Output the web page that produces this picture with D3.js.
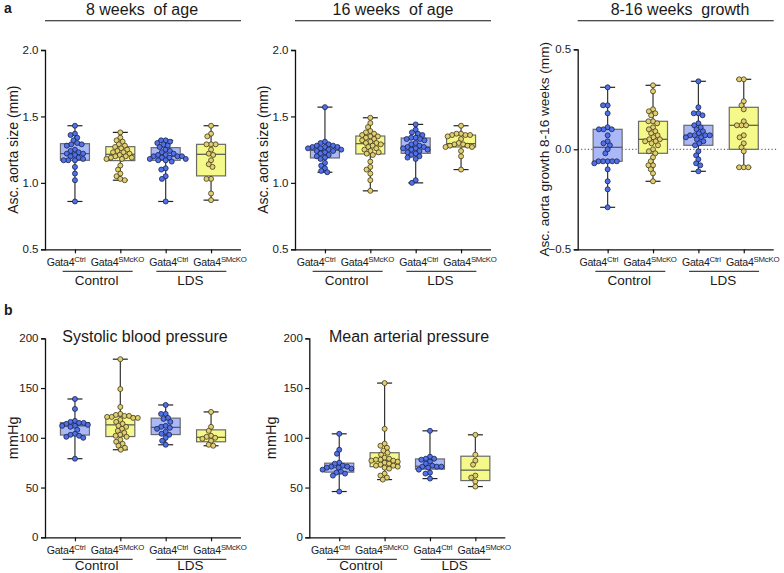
<!DOCTYPE html>
<html><head><meta charset="utf-8">
<script src="https://cdn.jsdelivr.net/npm/d3@7"></script>
<style>
body{margin:0;background:#fff}
svg{display:block}
text{font-family:"Liberation Sans",Arial,Helvetica,sans-serif;fill:#1a1a1a}
</style>
</head><body>
<svg id="chart" width="784" height="573"></svg>
<script>
// ---------- data ----------
const genotypeBase = "Gata4";
const genotypeSup = ["Ctrl", "SMcKO", "Ctrl", "SMcKO"];
const cohorts = ["Control", "LDS"];
const panelTitles = ["8 weeks\u00a0 of age", "16 weeks\u00a0 of age", "8-16 weeks\u00a0 growth", "Systolic blood pressure", "Mean arterial pressure"];
const yLabels = ["Asc. aorta size (mm)", "Asc. aorta size (mm)", "Asc. aorta growth 8-16 weeks (mm)", "mmHg", "mmHg"];
const ticksSize = [0.5, 1.0, 1.5, 2.0];
const ticksGrowth = [-0.5, 0.0, 0.5];
const ticksPressure = [0, 50, 100, 150, 200];

const aorta8wk = [
  [1.43,1.37,1.36,1.34,1.32,1.30,1.29,1.29,1.28,1.25,1.24,1.23,1.22,1.22,1.21,1.20,1.19,1.18,1.17,1.17,1.17,1.12,1.07,1.02,0.86],
  [1.38,1.34,1.32,1.31,1.29,1.28,1.27,1.26,1.25,1.24,1.23,1.23,1.22,1.21,1.20,1.20,1.19,1.19,1.18,1.18,1.13,1.10,1.07,1.05,1.03,1.02],
  [1.32,1.32,1.31,1.30,1.29,1.28,1.27,1.25,1.24,1.23,1.22,1.21,1.21,1.20,1.20,1.20,1.19,1.19,1.18,1.18,1.17,1.17,1.16,1.11,1.10,1.05,1.03,0.86],
  [1.43,1.37,1.35,1.29,1.29,1.29,1.25,1.22,1.21,1.17,1.14,1.12,1.03,1.03,0.92,0.87]
];
const aorta16wk = [
  [1.57,1.31,1.30,1.29,1.28,1.28,1.27,1.27,1.27,1.26,1.26,1.25,1.25,1.24,1.24,1.23,1.22,1.21,1.20,1.19,1.18,1.15,1.13,1.11,1.09,1.08],
  [1.49,1.45,1.42,1.39,1.38,1.37,1.36,1.35,1.35,1.34,1.33,1.32,1.31,1.30,1.30,1.29,1.28,1.27,1.26,1.25,1.24,1.23,1.22,1.21,1.16,1.12,1.10,1.07,1.02,0.94],
  [1.44,1.40,1.38,1.37,1.36,1.34,1.34,1.33,1.33,1.32,1.30,1.29,1.28,1.27,1.27,1.26,1.26,1.25,1.25,1.24,1.23,1.22,1.21,1.20,1.19,1.18,1.02,1.00],
  [1.43,1.37,1.37,1.36,1.36,1.36,1.35,1.33,1.30,1.29,1.29,1.28,1.28,1.27,1.27,1.24,1.20,1.10]
];
const aortaGrowth = [
  [0.31,0.22,0.22,0.18,0.11,0.10,0.10,0.10,0.07,0.04,0.03,0.02,0.00,-0.02,-0.06,-0.06,-0.06,-0.06,-0.06,-0.07,-0.10,-0.16,-0.20,-0.29],
  [0.32,0.29,0.20,0.19,0.18,0.17,0.14,0.14,0.13,0.11,0.10,0.09,0.08,0.07,0.06,0.05,0.05,0.04,0.04,0.03,0.02,0.00,-0.01,-0.02,-0.04,-0.06,-0.08,-0.08,-0.10,-0.12,-0.16],
  [0.34,0.21,0.18,0.18,0.17,0.13,0.12,0.11,0.10,0.09,0.08,0.07,0.07,0.07,0.07,0.06,0.06,0.05,0.04,0.03,0.02,-0.01,-0.03,-0.05,-0.07,-0.08,-0.11],
  [0.35,0.35,0.24,0.22,0.20,0.14,0.12,0.12,0.12,0.07,0.06,0.03,0.01,-0.01,-0.09,-0.09,-0.09]
];
const systolicBP = [
  [139,129,117,116,115,115,114,113,112,112,111,108,104,103,102,101,100,79],
  [179,149,131,124,123,122,122,121,121,120,120,118,116,114,112,111,109,107,105,103,102,101,98,96,94,92,90,88],
  [133,124,124,120,119,116,112,111,110,109,106,104,103,100,97,93],
  [126,111,107,102,101,100,99,97,93,92]
];
const meanAP = [
  [104,88,84,75,74,72,71,71,70,70,69,68,66,65,64,62,46],
  [155,109,94,92,90,87,85,83,80,79,78,78,77,77,76,75,74,73,72,72,71,70,69,64,62,60,58],
  [107,81,79,79,78,76,74,72,71,71,71,70,68,65,64,59],
  [103,83,77,73,62,60,56,51]
];

// ---------- style ----------
const boxFill = ["#abb8f7", "#f4f98a", "#abb8f7", "#f4f98a"];
const dotFill = ["#5172e6", "#e2cf72", "#5172e6", "#e2cf72"];
const dotStroke = ["#18214f", "#3f3a1c", "#18214f", "#3f3a1c"];

const svg = d3.select("#chart");

const panels = [
  {data: aorta8wk, x0: 45, top: 50, bottom: 249.3, domain: [0.5, 2.0], ticks: ticksSize, fmt: d3.format(".1f"), title: panelTitles[0], titleX: 142, ylab: yLabels[0], ylabX: 13, ylabSize: 14, titleLine: true},
  {data: aorta16wk, x0: 295, top: 50, bottom: 249.3, domain: [0.5, 2.0], ticks: ticksSize, fmt: d3.format(".1f"), title: panelTitles[1], titleX: 393, ylab: yLabels[1], ylabX: 263, ylabSize: 14, titleLine: true},
  {data: aortaGrowth, x0: 577.7, top: 49.3, bottom: 249.3, domain: [-0.5, 0.5], ticks: ticksGrowth, fmt: d3.format(".1f"), title: panelTitles[2], titleX: 680, ylab: yLabels[2], ylabX: 544, ylabSize: 13.6, titleLine: true, zero: true},
  {data: systolicBP, x0: 45, top: 338.3, bottom: 537.3, domain: [0, 200], ticks: ticksPressure, fmt: d3.format("d"), title: panelTitles[3], titleX: 145, ylab: yLabels[3], ylabX: 13, ylabSize: 14.5, titleLine: false},
  {data: meanAP, x0: 309.3, top: 338.3, bottom: 537.3, domain: [0, 200], ticks: ticksPressure, fmt: d3.format("d"), title: panelTitles[4], titleX: 409, ylab: yLabels[4], ylabX: 271, ylabSize: 14.5, titleLine: false}
];

function quart(sorted, p) {
  const n = sorted.length, pos = (n + 1) * p;
  if (pos <= 1) return sorted[0];
  if (pos >= n) return sorted[n - 1];
  const lo = Math.floor(pos);
  return sorted[lo - 1] + (pos - lo) * (sorted[lo] - sorted[lo - 1]);
}

function swarm(vals, y, d) {
  const pts = vals.map(v => ({v, y: y(v), x: 0})).sort((a, b) => a.y - b.y);
  const placed = [];
  pts.forEach(p => {
    const near = placed.filter(q => Math.abs(q.y - p.y) < d);
    const cands = [0];
    near.forEach(q => {
      const dx = Math.sqrt(d * d - (q.y - p.y) ** 2);
      cands.push(q.x + dx, q.x - dx);
    });
    cands.sort((a, b) => Math.abs(a) - Math.abs(b) || a - b);
    for (const c of cands) {
      if (near.every(q => (q.x - c) ** 2 + (q.y - p.y) ** 2 >= d * d - 0.01)) { p.x = c; break; }
    }
    placed.push(p);
  });
  return pts;
}

const W = 196;
const R = 2.5;

svg.append("text").attr("x", 4).attr("y", 13).attr("font-size", 14).attr("font-weight", "bold").text("a");
svg.append("text").attr("x", 4).attr("y", 315).attr("font-size", 14).attr("font-weight", "bold").text("b");

panels.forEach(P => {
  const g = svg.append("g");
  const y = d3.scaleLinear().domain(P.domain).range([P.bottom, P.top]);
  const x = d3.scalePoint().domain(d3.range(4)).range([P.x0, P.x0 + W]).padding(0.66);

  if (P.zero) {
    g.append("line").attr("x1", P.x0).attr("x2", P.x0 + W + 4).attr("y1", y(0)).attr("y2", y(0))
      .attr("stroke", "#333").attr("stroke-width", 0.9).attr("stroke-dasharray", "1.2,2.2");
  }

  const ya = g.append("g").attr("transform", `translate(${P.x0},0)`)
    .call(d3.axisLeft(y).tickValues(P.ticks).tickFormat(P.fmt).tickSize(4).tickPadding(2.5));
  ya.select(".domain").attr("stroke", "#111").attr("stroke-width", 1.3);
  ya.selectAll(".tick line").attr("stroke", "#111").attr("stroke-width", 1.2);
  ya.selectAll(".tick text").attr("font-size", 11.5).attr("fill", "#1a1a1a").attr("font-family", '"Liberation Sans",Arial,sans-serif');

  const xa = g.append("g").attr("transform", `translate(0,${P.bottom})`)
    .call(d3.axisBottom(x).tickSize(4).tickFormat(""));
  xa.select(".domain").attr("d", `M${P.x0},0.5H${P.x0 + W}`).attr("stroke", "#111").attr("stroke-width", 1.3);
  xa.selectAll(".tick line").attr("stroke", "#111").attr("stroke-width", 1.2);

  g.append("text").attr("transform", `translate(${P.ylabX},${(P.top + P.bottom) / 2}) rotate(-90)`)
    .attr("text-anchor", "middle").attr("dominant-baseline", "central").attr("font-size", P.ylabSize).text(P.ylab);

  if (P.titleLine) {
    g.append("text").attr("x", P.titleX).attr("y", 14.5).attr("text-anchor", "middle").attr("font-size", 16).text(P.title);
    g.append("line").attr("x1", P.x0).attr("x2", P.x0 + W).attr("y1", 20.8).attr("y2", 20.8).attr("stroke", "#111").attr("stroke-width", 1.1);
  } else {
    g.append("text").attr("x", P.titleX).attr("y", P.top + 3.5).attr("text-anchor", "middle").attr("font-size", 16).text(P.title);
  }

  genotypeSup.forEach((s, i) => {
    const t = g.append("text").attr("x", x(i) + (i - 1.5) * 5.9).attr("y", P.bottom + 17)
      .attr("text-anchor", "middle").attr("font-size", 10.6).attr("letter-spacing", -0.25);
    t.append("tspan").text(genotypeBase);
    t.append("tspan").attr("font-size", 7.8).attr("dy", -4.5).text(s);
  });
  cohorts.forEach((c, k) => {
    const cx = (x(2 * k) + x(2 * k + 1)) / 2 + k * 3;
    g.append("line").attr("x1", cx - 35).attr("x2", cx + 35).attr("y1", P.bottom + 22).attr("y2", P.bottom + 22)
      .attr("stroke", "#444").attr("stroke-width", 1.3);
    g.append("text").attr("x", cx - 1).attr("y", Math.min(P.bottom + 35.5, 569.5)).attr("text-anchor", "middle").attr("font-size", 13.5).text(c);
  });

  P.data.forEach((vals, i) => {
    const s = vals.slice().sort(d3.ascending);
    const q1 = quart(s, 0.25), med = quart(s, 0.5), q3 = quart(s, 0.75);
    const mn = s[0], mx = s[s.length - 1];
    const cx = x(i), bw = 29, cw = 15;
    g.append("line").attr("x1", cx).attr("x2", cx).attr("y1", y(mx)).attr("y2", y(mn)).attr("stroke", "#333").attr("stroke-width", 1.2);
    [mn, mx].forEach(v => g.append("line").attr("x1", cx - cw / 2).attr("x2", cx + cw / 2).attr("y1", y(v)).attr("y2", y(v)).attr("stroke", "#222").attr("stroke-width", 1.2));
    g.append("rect").attr("x", cx - bw / 2).attr("y", y(q3)).attr("width", bw).attr("height", y(q1) - y(q3))
      .attr("fill", boxFill[i]).attr("stroke", "#6a6a6a").attr("stroke-width", 1.2);
    g.append("line").attr("x1", cx - bw / 2).attr("x2", cx + bw / 2).attr("y1", y(med)).attr("y2", y(med)).attr("stroke", "#555").attr("stroke-width", 1.2);
    const pts = swarm(vals, y, 2 * R * 0.92);
    g.selectAll(null).data(pts).join("circle")
      .attr("cx", d => cx + d.x).attr("cy", d => d.y).attr("r", R)
      .attr("fill", dotFill[i]).attr("stroke", dotStroke[i]).attr("stroke-width", 0.8);
  });
});
</script>
</body></html>
